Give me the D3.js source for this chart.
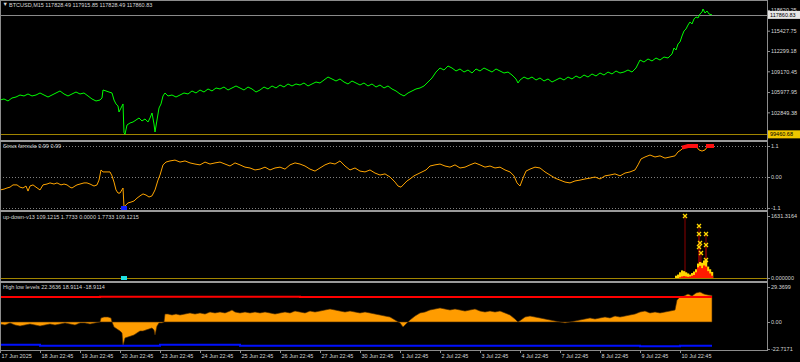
<!DOCTYPE html>
<html>
<head>
<meta charset="utf-8">
<script src="https://cdn.jsdelivr.net/npm/d3@7"></script>
<style>
body { margin: 0; background: #000; }
svg { display: block; font-family: "Liberation Sans", Arial, sans-serif; }
.axis text { fill: #d8d8d8; font-size: 5.5px; }
.axis line { stroke: #909090; }
.axis path { display: none; }
.title { fill: #d8d8d8; font-size: 5.5px; }
</style>
</head>
<body>
<svg id="chart" width="800" height="362"></svg>
<script>
// bar index along the chart, tick labels of the time axis
var dayBars = [0, 40, 80, 120, 160, 200, 240, 280, 320, 360, 400, 440, 480, 520, 560, 600, 640, 680];
var dayLabels = ["17 Jun 2025", "18 Jun 22:45", "19 Jun 22:45", "20 Jun 22:45", "23 Jun 22:45", "24 Jun 22:45",
  "25 Jun 22:45", "26 Jun 22:45", "27 Jun 22:45", "30 Jun 22:45", "1 Jul 22:45", "2 Jul 22:45",
  "3 Jul 22:45", "4 Jul 22:45", "7 Jul 22:45", "8 Jul 22:45", "9 Jul 22:45", "10 Jul 22:45"];

// BTCUSD M15 close  [bar, price]
var price = [[0,104750],[4,104910],[8,104600],[12,105060],[16,105210],[20,105520],[24,105370],[28,105680],[32,105370],[36,105520],
  [40,105830],[44,105520],[48,105210],[52,105520],[56,105830],[60,106140],[64,105680],[68,105370],[72,105680],[76,105980],
  [80,105680],[84,105830],[88,105370],[92,104910],[96,104600],[100,104750],[102,105060],[103,106290],[106,106140],[109,105980],
  [112,105830],[114,104750],[116,104140],[118,103830],[119,102900],[121,103520],[122,103830],[123,104140],[124,99700],[125,99470],
  [127,100900],[130,101210],[133,101360],[136,101670],[139,101980],[142,101520],[145,101830],[148,101360],[150,101980],[152,102750],
  [154,101050],[155,99820],[157,101670],[159,103520],[161,104140],[163,105370],[165,105830],[168,105370],[172,105520],[176,105210],
  [180,105520],[184,105830],[188,105680],[192,106140],[196,105830],[200,106290],[204,105980],[208,106450],[212,106140],[216,106600],
  [220,106450],[224,106750],[228,106290],[232,106600],[236,106910],[240,106600],[244,106290],[248,106750],[252,106450],[256,105980],
  [260,106290],[264,106750],[268,106450],[272,106910],[276,106600],[280,107060],[284,106750],[288,107220],[292,106910],[296,107220],
  [300,107060],[304,107370],[308,106910],[312,107220],[316,107520],[320,107370],[324,107830],[328,108290],[332,107990],[336,107680],
  [340,107990],[344,107520],[348,107220],[352,107680],[356,107370],[360,107060],[364,107370],[368,106910],[372,107220],[376,106750],
  [380,107060],[384,106600],[388,106910],[392,106450],[396,106140],[400,105680],[404,105370],[408,105830],[412,106140],[416,106450],
  [420,106600],[424,106910],[428,107520],[432,108140],[436,109060],[440,109680],[444,109370],[448,109990],[452,109680],[456,109220],
  [460,109530],[464,109060],[468,109370],[472,108910],[476,109530],[480,109220],[484,109680],[488,109370],[492,109060],[496,109530],
  [500,109220],[504,108910],[508,109060],[512,108600],[516,107990],[518,107370],[520,107830],[524,108290],[528,107990],[532,108290],
  [536,107830],[540,108140],[544,107680],[548,107990],[552,107520],[556,107830],[560,108140],[564,107830],[568,108290],[572,107990],
  [576,108450],[580,108140],[584,108600],[588,108290],[592,108760],[596,108450],[600,108910],[604,108600],[608,109060],[612,108760],
  [616,109220],[620,108910],[624,109060],[628,109370],[632,109060],[636,109680],[638,110300],[640,110910],[644,110600],[648,111070],
  [652,110760],[656,111220],[660,110910],[664,111370],[668,111220],[672,111840],[674,112760],[676,112450],[678,113380],[680,113690],
  [682,114610],[684,115380],[686,115690],[688,116300],[690,116770],[692,116460],[694,117230],[696,117540],[698,117380],[700,118000],
  [702,118310],[703,118770],[705,118150],[707,118460],[709,118000],[712,117860]];
var priceTicks = [118620.25, 115427.75, 112299.18, 109170.45, 105977.95, 102849.38];
var bidPrice = 117860.83;
var lowPrice = 99460.68;

// Sinus formula  [bar, value]
var sinus = [[0,-0.46],[4,-0.43],[7,-0.39],[10,-0.36],[13,-0.28],[17,-0.28],[20,-0.36],[23,-0.39],[26,-0.32],[28,-0.50],
  [30,-0.32],[33,-0.28],[36,-0.36],[40,-0.46],[43,-0.28],[47,-0.25],[50,-0.21],[54,-0.25],[57,-0.21],[61,-0.28],
  [64,-0.25],[67,-0.28],[70,-0.36],[72,-0.39],[75,-0.32],[77,-0.28],[80,-0.25],[84,-0.21],[87,-0.21],[90,-0.25],
  [94,-0.32],[97,-0.28],[99,-0.11],[101,0.25],[103,0.18],[106,0.18],[110,0.18],[112,0.04],[114,-0.18],[116,-0.46],
  [118,-0.57],[120,-0.57],[123,-0.39],[124,-1.06],[126,-0.99],[128,-0.92],[131,-0.89],[134,-0.85],[137,-0.75],[140,-0.67],
  [143,-0.60],[146,-0.64],[149,-0.71],[152,-0.67],[155,-0.46],[158,-0.11],[160,0.07],[163,0.43],[166,0.53],[170,0.57],
  [175,0.60],[180,0.53],[185,0.57],[190,0.50],[195,0.46],[200,0.43],[205,0.53],[210,0.46],[215,0.50],[220,0.53],
  [225,0.46],[230,0.39],[235,0.50],[240,0.43],[245,0.35],[250,0.32],[255,0.25],[260,0.28],[265,0.35],[270,0.25],
  [275,0.32],[280,0.35],[285,0.28],[290,0.43],[295,0.50],[300,0.46],[305,0.39],[310,0.28],[315,0.21],[320,0.32],
  [325,0.43],[330,0.50],[335,0.46],[340,0.57],[345,0.39],[350,0.25],[355,0.32],[360,0.21],[365,0.18],[370,0.25],
  [375,0.14],[380,0.07],[385,0.11],[390,0],[395,-0.18],[398,-0.32],[401,-0.36],[404,-0.25],[407,-0.14],[410,-0.07],
  [414,0.04],[418,0.11],[422,0.18],[426,0.25],[430,0.39],[435,0.43],[440,0.46],[445,0.39],[450,0.35],[455,0.43],
  [460,0.32],[465,0.35],[470,0.43],[475,0.50],[480,0.43],[485,0.35],[490,0.39],[495,0.32],[500,0.35],[505,0.25],
  [510,0.18],[514,0.04],[517,-0.21],[520,-0.32],[523,-0.04],[526,0.21],[530,0.28],[535,0.35],[540,0.32],[545,0.18],
  [550,0.07],[555,-0.04],[560,-0.11],[565,-0.18],[570,-0.21],[575,-0.14],[580,-0.11],[585,-0.07],[590,-0.04],[595,0],
  [600,-0.07],[605,0.04],[610,0.07],[615,0.11],[620,0.04],[625,0.14],[630,0.18],[635,0.25],[638,0.43],[641,0.64],
  [645,0.71],[650,0.78],[655,0.71],[660,0.75],[665,0.67],[670,0.71],[675,0.75],[678,0.89],[681,0.96],[684,1.06],
  [688,1.10],[692,1.10],[696,1.10],[699,0.96],[702,0.92],[705,0.96],[708,1.10],[712,1.10]];
var sinusLevels = [1.1, 0, -1.1];
var sinusLabels = ["1.1", "0.00", "-1.1"];
var sinusThreshold = 0.99;
var sinusSignal = [[124, -1.1]];

// up-down-v13  [bar, value]
var upBars = [[676,60],[678,90],[680,150],[682,200],[684,180],[686,150],[688,120],[690,90],[692,130],[694,170],
  [696,230],[698,380],[700,420],[702,400],[704,460],[706,470],[708,300],[710,230],[712,160]];
var downBars = [[680,20],[682,40],[684,50],[686,40],[688,30],[690,40],[692,60],[694,80],[696,150],[698,280],
  [700,320],[702,260],[704,330],[706,300],[708,180],[710,120],[712,60]];
var upMarks = [[685,1631.3164],[699,1368],[699,1158],[706,1158],[700,921],[706,868],[699,816],[701,658],[706,474]];
var upSignal = [[124, 0]];
var upDownTicks = [1631.3164, 0];
var upDownLabels = ["1631.3164", "0.000000"];

// High low levels  [bar, value]
var hilo = [[0,-1.7],[5,-2.5],[10,-0.8],[15,-2.5],[20,-3.4],[25,-2.5],[30,-1.7],[35,-2.5],[40,-3.4],[45,-2.5],
  [50,-1.7],[55,-2.5],[60,-1.7],[65,-0.8],[70,-1.7],[75,-2.5],[80,-0.8],[85,-0.8],[90,-1.7],[95,-0.8],
  [100,0],[101,3.4],[104,4.2],[108,4.2],[111,3.4],[112,0],[114,-4.2],[117,-5.9],[120,-7.6],[122,-9.2],
  [123,-20.2],[125,-13.4],[128,-12.6],[131,-11.8],[134,-10.9],[137,-9.2],[140,-7.6],[143,-7.6],[146,-6.7],[149,-5.9],
  [152,-5.0],[154,-6.7],[155,-10.9],[157,-3.4],[159,-0.8],[162,-0.8],[164,0],[165,6.7],[168,6.7],[172,5.9],
  [176,6.7],[180,5.9],[185,6.7],[190,7.6],[195,6.7],[200,7.6],[205,6.7],[210,8.4],[215,7.6],[220,8.4],
  [225,7.6],[230,9.2],[232,10.1],[235,8.4],[240,7.6],[245,8.4],[250,7.6],[255,8.4],[260,7.6],[265,8.4],
  [270,7.6],[275,6.7],[280,7.6],[285,8.4],[290,7.6],[295,9.2],[300,8.4],[305,7.6],[310,9.2],[315,8.4],
  [320,9.2],[325,10.1],[330,10.9],[335,10.1],[340,9.2],[345,8.4],[350,9.2],[355,8.4],[360,7.6],[365,8.4],
  [370,7.6],[375,6.7],[380,5.9],[385,5.0],[390,4.2],[395,1.7],[400,-0.8],[403,-4.2],[406,-1.7],[410,1.7],
  [415,5.0],[420,7.6],[425,8.4],[430,10.1],[435,10.9],[440,11.8],[445,10.9],[450,10.1],[455,10.9],[460,10.1],
  [465,9.2],[470,10.1],[475,10.9],[480,9.2],[485,8.4],[490,9.2],[495,8.4],[500,9.2],[505,7.6],[510,5.9],
  [515,2.5],[518,0],[521,1.7],[525,4.2],[530,5.0],[535,4.2],[540,3.4],[545,2.5],[550,1.7],[555,0.8],
  [560,0],[565,-0.8],[570,0],[575,0.8],[580,1.7],[585,2.5],[590,3.4],[595,2.5],[600,3.4],[605,4.2],
  [610,3.4],[615,5.0],[620,4.2],[625,5.0],[630,5.9],[635,6.7],[640,8.4],[645,9.2],[650,7.6],[655,8.4],
  [660,7.6],[665,8.4],[670,9.2],[675,10.1],[677,18.5],[680,21.0],[684,21.8],[688,23.5],[692,21.8],[696,24.4],
  [700,25.2],[704,23.5],[708,22.7],[712,22.36]];
var highLevel = [[0,21.0],[100,21.2],[300,21.0],[500,21.0],[712,21.0]];
var lowLevel = [[0,-19.1],[40,-19.9],[160,-19.1],[240,-19.9],[640,-20.4],[680,-19.9],[712,-19.9]];
var hiloTicks = [29.3699, 0, -22.7171];
var hiloLabels = ["29.3699", "0.00", "-22.7171"];

var svg = d3.select("#chart");
var plotRight = 767;

var x = d3.scaleLinear().domain([0, 767]).range([0, plotRight]);
var yPrice = d3.scaleLinear().domain([98590, 120000]).range([140, 1]);
var ySinus = d3.scaleLinear().domain([-1.171, 1.242]).range([210, 142]);
var yUpDown = d3.scaleLinear().domain([-79, 1737]).range([281, 212]);
var yHiLo = d3.scaleLinear().domain([-23.53, 32.77]).range([350, 283]);

function hline(y, color, dash, w) {
  svg.append("line").attr("x1", 0).attr("x2", plotRight).attr("y1", y).attr("y2", y)
    .attr("stroke", color).attr("stroke-width", w || 1).attr("stroke-dasharray", dash || null);
}

// ---- main pane
hline(Math.round(yPrice(bidPrice)) + 0.5, "#8a8a8a");
hline(Math.round(yPrice(lowPrice)) + 0.5, "#a08400");
svg.append("path").datum(price)
  .attr("fill", "none").attr("stroke", "#00ff00").attr("stroke-width", 1)
  .attr("d", d3.line().x(function (d) { return x(d[0]); }).y(function (d) { return yPrice(d[1]); }));

// ---- sinus pane
sinusLevels.forEach(function (v) { hline(Math.round(ySinus(v)) + 0.5, "#808080", "1,2"); });
svg.append("path").datum(sinus)
  .attr("fill", "none").attr("stroke", "#ffa500").attr("stroke-width", 1)
  .attr("d", d3.line().x(function (d) { return x(d[0]); }).y(function (d) { return ySinus(d[1]); }));
svg.append("path").datum(sinus)
  .attr("fill", "none").attr("stroke", "#ff1010").attr("stroke-width", 4).attr("stroke-linecap", "square")
  .attr("d", d3.line().defined(function (d) { return d[1] >= sinusThreshold; })
    .x(function (d) { return x(d[0]); }).y(function (d) { return ySinus(d[1]); }));
svg.selectAll(".sig1").data(sinusSignal).enter().append("rect")
  .attr("x", function (d) { return x(d[0]) - 3; }).attr("y", function (d) { return ySinus(d[1]) - 2; })
  .attr("width", 6).attr("height", 4).attr("fill", "#1020ff");

// ---- up-down pane
hline(Math.round(yUpDown(0)) + 0.5, "#a08400");
svg.selectAll(".mk-line").data(upMarks).enter().append("line")
  .attr("x1", function (d) { return x(d[0]); }).attr("x2", function (d) { return x(d[0]); })
  .attr("y1", function (d) { return yUpDown(d[1]); }).attr("y2", yUpDown(0))
  .attr("stroke", "#8b0000").attr("stroke-width", 1);
svg.selectAll(".upb").data(upBars).enter().append("rect")
  .attr("x", function (d) { return x(d[0]) - 1; }).attr("y", function (d) { return yUpDown(d[1]); })
  .attr("width", 2.2).attr("height", function (d) { return yUpDown(0) - yUpDown(d[1]); })
  .attr("fill", "#ffd700");
svg.selectAll(".dnb").data(downBars).enter().append("rect")
  .attr("x", function (d) { return x(d[0]) - 1; }).attr("y", function (d) { return yUpDown(d[1]); })
  .attr("width", 2.2).attr("height", function (d) { return yUpDown(0) - yUpDown(d[1]); })
  .attr("fill", "#ff1a00");
svg.selectAll(".mk").data(upMarks).enter().append("path")
  .attr("transform", function (d) { return "translate(" + x(d[0]) + "," + yUpDown(d[1]) + ")"; })
  .attr("d", "M-2,-2L2,2M-2,2L2,-2")
  .attr("stroke", "#ffd700").attr("stroke-width", 1.3);
svg.selectAll(".sig2").data(upSignal).enter().append("rect")
  .attr("x", function (d) { return x(d[0]) - 3; }).attr("y", function (d) { return yUpDown(d[1]) - 2; })
  .attr("width", 6).attr("height", 4).attr("fill", "#20e0e0");

// ---- high low pane
svg.append("path").datum(hilo)
  .attr("fill", "#ff9c00").attr("stroke", "#4a2a00").attr("stroke-width", 0.6)
  .attr("d", d3.area().x(function (d) { return x(d[0]); }).y0(yHiLo(0)).y1(function (d) { return yHiLo(d[1]); }));
svg.append("path").datum(highLevel)
  .attr("fill", "none").attr("stroke", "#ff0000").attr("stroke-width", 2)
  .attr("d", d3.line().curve(d3.curveStepAfter).x(function (d) { return x(d[0]); }).y(function (d) { return yHiLo(d[1]); }));
svg.append("path").datum(lowLevel)
  .attr("fill", "none").attr("stroke", "#0010ff").attr("stroke-width", 2)
  .attr("d", d3.line().curve(d3.curveStepAfter).x(function (d) { return x(d[0]); }).y(function (d) { return yHiLo(d[1]); }));

// ---- frame
var frame = "#8c8c8c";
svg.append("line").attr("x1", 0).attr("x2", plotRight).attr("y1", 0.5).attr("y2", 0.5).attr("stroke", frame);
svg.append("line").attr("x1", 0.5).attr("x2", 0.5).attr("y1", 0).attr("y2", 350).attr("stroke", frame);
svg.append("line").attr("x1", plotRight + 0.5).attr("x2", plotRight + 0.5).attr("y1", 0).attr("y2", 351).attr("stroke", frame);
[141, 211, 282].forEach(function (y) { hline(y, "#9a9a9a", null, 2); });
svg.append("line").attr("x1", 0).attr("x2", plotRight + 1).attr("y1", 350.5).attr("y2", 350.5).attr("stroke", frame);

// ---- axes
function rightAxis(scale, ticks, fmt) {
  svg.append("g").attr("class", "axis").attr("transform", "translate(" + plotRight + ",0)")
    .call(d3.axisRight(scale).tickValues(ticks).tickFormat(fmt).tickSize(3).tickPadding(1));
}
rightAxis(yPrice, priceTicks, d3.format(".2f"));
rightAxis(ySinus, sinusLevels, function (d, i) { return sinusLabels[i]; });
rightAxis(yUpDown, upDownTicks, function (d, i) { return upDownLabels[i]; });
rightAxis(yHiLo, hiloTicks, function (d, i) { return hiloLabels[i]; });

function priceBox(v, fill) {
  var y = yPrice(v);
  svg.append("rect").attr("x", plotRight + 1).attr("y", y - 4).attr("width", 32).attr("height", 8).attr("fill", fill);
  svg.append("text").attr("x", plotRight + 3).attr("y", y).attr("dy", "0.35em")
    .attr("font-size", 5.5).attr("fill", "#000").text(d3.format(".2f")(v));
}
priceBox(bidPrice, "#e6e6e6");
priceBox(lowPrice, "#f0c800");

var xAxis = svg.append("g").attr("class", "axis").attr("transform", "translate(0,350)")
  .call(d3.axisBottom(x).tickValues(dayBars).tickFormat(function (d, i) { return dayLabels[i]; })
    .tickSize(3).tickPadding(1));
xAxis.selectAll("text").attr("text-anchor", "start").attr("dx", 1);

// ---- pane titles
svg.append("text").attr("class", "title").attr("x", 2.5).attr("y", 5.5).attr("font-size", 4.5).text("▼");
svg.append("text").attr("class", "title").attr("x", 9).attr("y", 5).attr("dy", "0.35em")
  .text("BTCUSD,M15  117828.49 117915.85 117828.49 117860.83");
svg.append("text").attr("class", "title").attr("x", 3).attr("y", 146.5).attr("dy", "0.35em")
  .text("Sinus formula 0.99 0.99");
svg.append("text").attr("class", "title").attr("x", 3).attr("y", 217).attr("dy", "0.35em")
  .text("up-down-v13 109.1215 1.7733 0.0000 1.7733 109.1215");
svg.append("text").attr("class", "title").attr("x", 3).attr("y", 287.5).attr("dy", "0.35em")
  .text("High low levels 22.3636 18.9114 -18.9114");
</script>
</body>
</html>
